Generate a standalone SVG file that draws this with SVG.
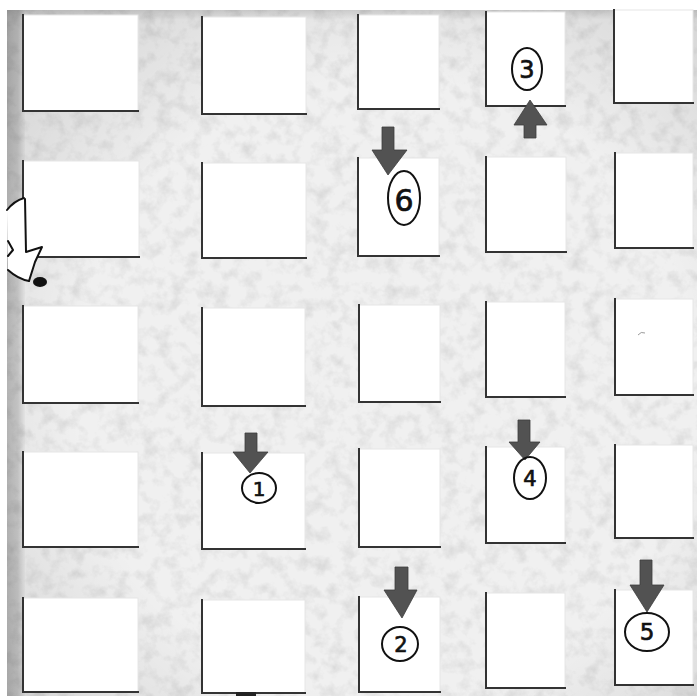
<svg xmlns="http://www.w3.org/2000/svg" width="697" height="696" viewBox="0 0 697 696">
<style>
.box{fill:#ffffff;stroke:#e6e6e6;stroke-width:1}
.edge{fill:none;stroke:#333;stroke-width:2;stroke-linecap:square}
.arrow{fill:#525252;stroke:#3e3e3e;stroke-width:0.8}
.ring{fill:none;stroke:#111;stroke-width:2}
.num{font-family:"DejaVu Sans","Liberation Sans",sans-serif;fill:#111;stroke:#111;stroke-width:0.7;text-anchor:middle;dominant-baseline:central}
.ink{fill:none;stroke:#111;stroke-width:2;stroke-linecap:round;stroke-linejoin:round}
</style>
<defs>
<filter id="tex" x="0" y="0" width="100%" height="100%">
<feTurbulence type="fractalNoise" baseFrequency="0.07" numOctaves="4" seed="7" result="n"/>
<feColorMatrix in="n" type="matrix" values="0 0 0 0 0.55  0 0 0 0 0.55  0 0 0 0 0.55  1.1 0 0 0 -0.48"/>
</filter>
<radialGradient id="vig" cx="0.55" cy="0.55" r="0.75">
<stop offset="0.6" stop-color="#000" stop-opacity="0"/>
<stop offset="1" stop-color="#000" stop-opacity="0.13"/>
</radialGradient>
<linearGradient id="lft" x1="0" y1="0" x2="1" y2="0">
<stop offset="0" stop-color="#000" stop-opacity="0.22"/>
<stop offset="0.6" stop-color="#000" stop-opacity="0.16"/>
<stop offset="1" stop-color="#000" stop-opacity="0.02"/>
</linearGradient>
<linearGradient id="top" x1="0" y1="0" x2="0" y2="1">
<stop offset="0" stop-color="#000" stop-opacity="0.12"/>
<stop offset="1" stop-color="#000" stop-opacity="0"/>
</linearGradient>
</defs>
<rect width="697" height="696" fill="#ffffff"/>
<g id="background">
<rect x="7" y="10" width="690" height="686" fill="#f0f0f0"/>
<rect x="7" y="10" width="690" height="686" filter="url(#tex)"/>
<rect x="7" y="10" width="690" height="686" fill="url(#vig)"/>
<rect x="7" y="10" width="18" height="686" fill="url(#lft)"/>
<rect x="7" y="10" width="690" height="10" fill="url(#top)"/>
</g>
<g id="r1c1"><rect class="box" x="23" y="15" width="115" height="96"/><path class="edge" d="M23 15V111H138"/></g>
<g id="r1c2"><rect class="box" x="202" y="17" width="104" height="97"/><path class="edge" d="M202 17V114H306"/></g>
<g id="r1c3"><rect class="box" x="358" y="15" width="81" height="94"/><path class="edge" d="M358 15V109H439"/></g>
<g id="r1c4"><rect class="box" x="486" y="12" width="79" height="94"/><path class="edge" d="M486 12V106H565"/></g>
<g id="r1c5"><rect class="box" x="614" y="10" width="79" height="93"/><path class="edge" d="M614 10V103H693"/></g>
<g id="r2c1"><rect class="box" x="23" y="161" width="116" height="96"/><path class="edge" d="M23 161V257H139"/></g>
<g id="r2c2"><rect class="box" x="202" y="163" width="104" height="95"/><path class="edge" d="M202 163V258H306"/></g>
<g id="r2c3"><rect class="box" x="358" y="158" width="81" height="98"/><path class="edge" d="M358 158V256H439"/></g>
<g id="r2c4"><rect class="box" x="486" y="157" width="80" height="95"/><path class="edge" d="M486 157V252H566"/></g>
<g id="r2c5"><rect class="box" x="615" y="153" width="78" height="95"/><path class="edge" d="M615 153V248H693"/></g>
<g id="r3c1"><rect class="box" x="23" y="306" width="115" height="97"/><path class="edge" d="M23 306V403H138"/></g>
<g id="r3c2"><rect class="box" x="202" y="308" width="103" height="98"/><path class="edge" d="M202 308V406H305"/></g>
<g id="r3c3"><rect class="box" x="359" y="305" width="81" height="97"/><path class="edge" d="M359 305V402H440"/></g>
<g id="r3c4"><rect class="box" x="486" y="302" width="79" height="95"/><path class="edge" d="M486 302V397H565"/></g>
<g id="r3c5"><rect class="box" x="615" y="299" width="78" height="96"/><path class="edge" d="M615 299V395H693"/><path d="M638 335Q641 331 645 333" fill="none" stroke="#9a9a9a" stroke-width="1"/></g>
<g id="r4c1"><rect class="box" x="23" y="452" width="115" height="95"/><path class="edge" d="M23 452V547H138"/></g>
<g id="r4c2"><rect class="box" x="202" y="453" width="103" height="96"/><path class="edge" d="M202 453V549H305"/></g>
<g id="r4c3"><rect class="box" x="359" y="449" width="81" height="98"/><path class="edge" d="M359 449V547H440"/></g>
<g id="r4c4"><rect class="box" x="486" y="447" width="79" height="96"/><path class="edge" d="M486 447V543H565"/></g>
<g id="r4c5"><rect class="box" x="615" y="445" width="78" height="93"/><path class="edge" d="M615 445V538H693"/></g>
<g id="r5c1"><rect class="box" x="23" y="598" width="115" height="94"/><path class="edge" d="M23 598V692H138"/></g>
<g id="r5c2"><rect class="box" x="202" y="600" width="103" height="93"/><path class="edge" d="M202 600V693H305"/><rect x="236" y="692" width="20" height="4" fill="#222"/></g>
<g id="r5c3"><rect class="box" x="359" y="597" width="81" height="95"/><path class="edge" d="M359 597V692H440"/></g>
<g id="r5c4"><rect class="box" x="486" y="593" width="79" height="95"/><path class="edge" d="M486 593V688H565"/></g>
<g id="r5c5"><rect class="box" x="615" y="590" width="78" height="95"/><path class="edge" d="M615 590V685H693"/></g>
<g id="entry">
<path d="M7 210Q15 201 24 198L25 252L42 247L35 262L29 281Q16 278 8 270Z" fill="#ffffff"/>
<path class="ink" d="M24 198Q14 201 7 210"/>
<path class="ink" d="M25 199L26 252L42 247L35 262L29 281"/>
<path class="ink" d="M8 241L13 250L8 256"/>
<path class="ink" d="M8 270Q18 279 29 281"/>
<ellipse cx="40" cy="282" rx="7" ry="5" fill="#111"/>
</g>
<g id="arrows">
<path class="arrow" d="M382 127H394V150H407L388 175L372 150H382Z"/>
<path class="arrow" d="M524 138H536V125H547L530 100L514 125H524Z"/>
<path class="arrow" d="M245 433H257V452H268L250 473L233 452H245Z"/>
<path class="arrow" d="M518 420H530V442H540L525 460L509 442H518Z"/>
<path class="arrow" d="M395 567H408V590H417L402 618L384 590H395Z"/>
<path class="arrow" d="M640 560H652V585H664L647 612L630 585H640Z"/>
</g>
<g id="labels">
<g id="label-1"><ellipse class="ring" cx="259" cy="488" rx="17" ry="15"/><text class="num" x="259" y="489" font-size="20">1</text></g>
<g id="label-2"><ellipse class="ring" cx="400" cy="644" rx="18" ry="17"/><text class="num" x="401" y="645" font-size="21">2</text></g>
<g id="label-3"><ellipse class="ring" cx="527" cy="69" rx="15" ry="21"/><text class="num" x="527" y="70" font-size="24">3</text></g>
<g id="label-4"><ellipse class="ring" cx="530" cy="478" rx="16" ry="21"/><text class="num" x="530" y="479" font-size="21">4</text></g>
<g id="label-5"><ellipse class="ring" cx="647" cy="632" rx="22" ry="19"/><text class="num" x="647" y="632" font-size="23">5</text></g>
<g id="label-6"><ellipse class="ring" cx="404" cy="198" rx="16" ry="27"/><text class="num" x="404" y="200" font-size="30">6</text></g>
</g>
</svg>
